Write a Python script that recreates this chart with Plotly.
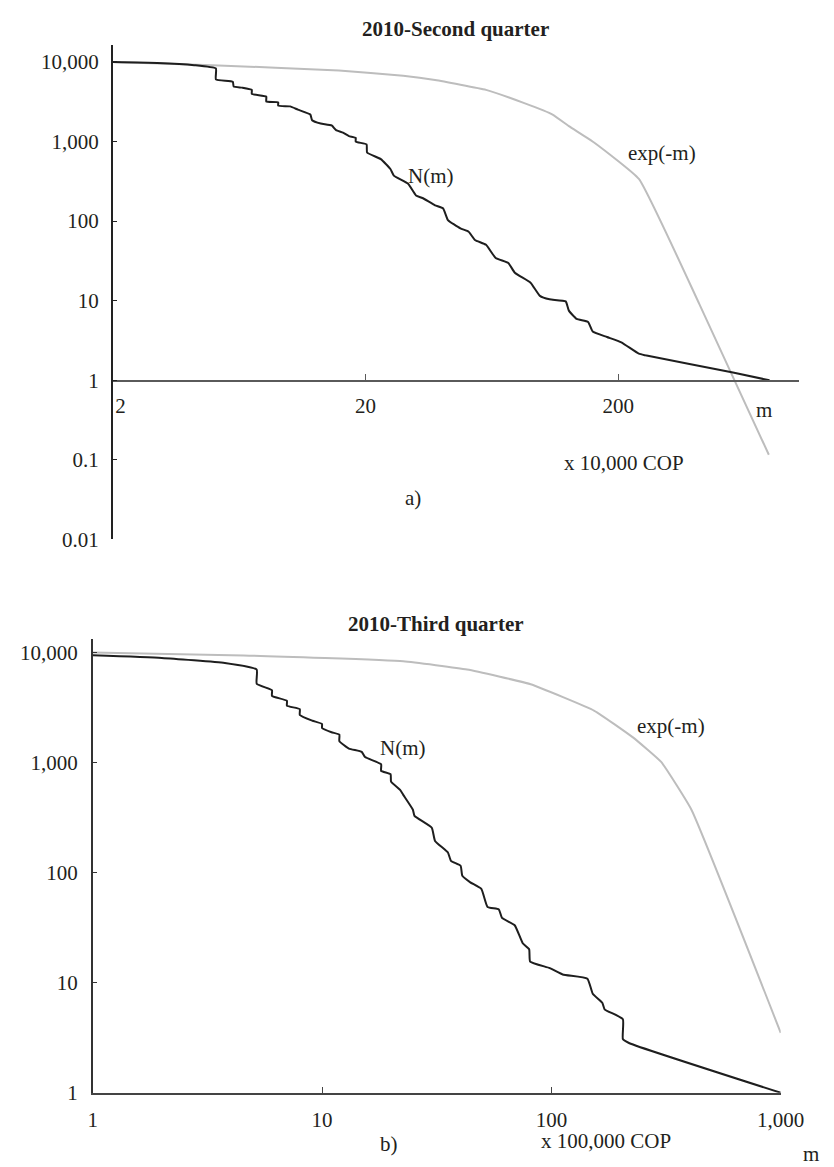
import plotly.graph_objects as go

# ---------------- data ----------------
# Panel a) 2010-Second quarter
a_nm_x = [2, 3, 4.2, 5.12, 5.12, 5.97, 6.02, 6.5, 7.1, 7.1, 8.1, 8.1, 9.03, 9.03, 10.07, 10.8,
          12.1, 12.3, 13.3, 14.7, 15.3, 16.3, 17.2, 18.3, 18.3, 20.2, 20.3, 23.0, 25.1, 25.9,
          29.5, 31.7, 33.6, 37.7, 40.6, 42.4, 47.5, 51.2, 54.2, 60, 65.5, 73.5, 78, 90, 98,
          107, 124, 127.6, 137, 152, 158.5, 180.6, 205.8, 241.4, 256, 569, 794]
a_nm_y = [9950, 9700, 9100, 8260, 6030, 5640, 4900, 4750, 4450, 3970, 3670, 3180, 3100, 2820,
          2760, 2510, 2180, 1850, 1680, 1590, 1390, 1290, 1170, 1110, 995, 920, 726, 600, 451,
          373, 294, 210, 195, 158, 144, 103, 81, 73.6, 58, 50.3, 34.4, 29.8, 22.4, 16.8, 11.5,
          10.4, 9.8, 7.5, 5.9, 5.4, 4.1, 3.5, 3.0, 2.16, 2.06, 1.25, 1.0]
a_exp_x = [2, 4.95, 15.7, 28.2, 37.7, 60, 85, 110, 127.6, 161, 241.5, 419, 789]
a_exp_y = [10000, 9100, 7800, 6700, 5920, 4450, 3030, 2180, 1560, 966, 339, 9.05, 0.116]

# Panel b) 2010-Third quarter
b_nm_x = [1.0, 2.0, 3.77, 5.19, 5.19, 6.05, 6.05, 7.03, 7.03, 8.0, 8.0, 9.08, 10, 10, 11, 11.9,
          11.9, 13.1, 14.9, 15.4, 18.1, 18.1, 19.9, 20.0, 21.9, 22.6, 24.9, 25.3, 30.1, 31.1,
          35.4, 36.5, 40.2, 40.9, 44.3, 49.5, 52.7, 59, 60.9, 69.2, 75, 80, 80.8, 98.4, 112,
          143.6, 151.5, 166.7, 170.6, 205, 205, 219, 1000]
b_nm_y = [9510, 9000, 8110, 7070, 5250, 4580, 4070, 3670, 3310, 3090, 2730, 2420, 2260, 2080,
          1900, 1810, 1580, 1350, 1260, 1130, 973, 847, 791, 675, 568, 512, 375, 330, 257, 195,
          153, 128.5, 116, 94, 82, 71.5, 48.9, 46.5, 38.9, 33.4, 22.9, 20.2, 15.6, 13.6, 11.9,
          10.9, 7.94, 6.59, 5.74, 4.67, 3.08, 2.82, 1.0]
b_exp_x = [1, 4.55, 22.6, 42.9, 81.2, 154, 226, 301, 408, 1000]
b_exp_y = [10100, 9500, 8400, 7070, 5190, 2980, 1715, 1020, 375, 3.5]

# tick labels
a_x_ticks = [2, 20, 200]
a_x_labels = ["\u00a0\u00a0\u00a02", "20", "200"]
a_y_ticks = [0.01, 0.1, 1, 10, 100, 1000, 10000]
a_y_labels = ["0.01", "0.1", "1", "10", "100", "1,000", "10,000"]
b_x_ticks = [1, 10, 100, 1000]
b_x_labels = ["1", "10", "100", "1,000"]
b_y_ticks = [1, 10, 100, 1000, 10000]
b_y_labels = ["1", "10", "100", "1,000", "10,000"]

# ---------------- layout helpers ----------------
W, H = 834, 1167
def px(x):
    return x / W
def py(y):
    return (H - y) / H

FONT = "Liberation Serif, Times New Roman, serif"
TXT = "#231f20"
BLACK = "#1e1e1e"
GRAY = "#bdbdbd"

A_XR = [0.30103, 3.016]
A_YR = [-2, 4.217]
B_XR = [0, 3]
B_YR = [0, 4.123]

fig = go.Figure()
fig.add_trace(go.Scatter(x=a_exp_x, y=a_exp_y, mode="lines",
                         line=dict(color=GRAY, width=2, shape="spline", smoothing=0.35),
                         xaxis="x", yaxis="y", hoverinfo="skip"))
fig.add_trace(go.Scatter(x=a_nm_x, y=a_nm_y, mode="lines",
                         line=dict(color=BLACK, width=2, shape="spline", smoothing=0.4),
                         xaxis="x", yaxis="y", hoverinfo="skip"))
fig.add_trace(go.Scatter(x=b_exp_x, y=b_exp_y, mode="lines",
                         line=dict(color=GRAY, width=2, shape="spline", smoothing=0.35),
                         xaxis="x2", yaxis="y2", hoverinfo="skip"))
fig.add_trace(go.Scatter(x=b_nm_x, y=b_nm_y, mode="lines",
                         line=dict(color=BLACK, width=2, shape="spline", smoothing=0.4),
                         xaxis="x2", yaxis="y2", hoverinfo="skip"))

tickfont = dict(family=FONT, size=21, color=TXT)
common = dict(type="log", showgrid=False, zeroline=False, showline=True, ticks="inside",
              tickfont=tickfont, tickmode="array", fixedrange=True)

fig.update_layout(
    width=W, height=H, margin=dict(l=0, r=0, t=0, b=0),
    paper_bgcolor="white", plot_bgcolor="white", showlegend=False,
    xaxis=dict(**common, range=A_XR, domain=[px(96), px(814)], anchor="free",
               position=py(376.7),
               tickvals=a_x_ticks + [10 ** A_XR[1]], ticktext=a_x_labels + [""],
               linecolor="#5a5a5a", linewidth=1.5, tickcolor="#5a5a5a", ticklen=6,
               ticklabelstandoff=6),
    yaxis=dict(**common, range=A_YR, domain=[py(537), py(37)], anchor="x",
               tickvals=a_y_ticks + [10 ** A_YR[1]], ticktext=a_y_labels + [""],
               linecolor="#222", linewidth=1.5, tickcolor="#222", ticklen=5,
               ticklabelstandoff=8),
    xaxis2=dict(**common, range=B_XR, domain=[px(75), px(795)], anchor="y2",
                tickvals=b_x_ticks, ticktext=b_x_labels,
                linecolor="#444", linewidth=1.5, tickcolor="#444", ticklen=6,
                ticklabelstandoff=7),
    yaxis2=dict(**common, range=B_YR, domain=[py(1096), py(638)], anchor="x2",
                tickvals=b_y_ticks + [10 ** B_YR[1]], ticktext=b_y_labels + [""],
                linecolor="#333", linewidth=1.5, tickcolor="#333", ticklen=5,
                ticklabelstandoff=9),
)

def note(text, x, y, bold=False, size=21):
    fig.add_annotation(text=("<b>%s</b>" % text) if bold else text,
                       x=px(x), y=py(y), xref="paper", yref="paper",
                       xanchor="center", yanchor="middle", showarrow=False,
                       font=dict(family=FONT, size=size, color=TXT))

note("2010-Second quarter", 454.5, 21, bold=True)
note("N(m)", 429.5, 170)
note("exp(-m)", 670.5, 147)
note("m", 777, 406)
note("x 10,000 COP", 631, 460)
note("a)", 410, 495)

note("2010-Third quarter", 434, 622, bold=True)
note("N(m)", 400, 748)
note("exp(-m)", 680, 725)
note("b)", 385, 1148)
note("x 100,000 COP", 612, 1145)
note("m", 827, 1158)

fig.write_html("out.html")
